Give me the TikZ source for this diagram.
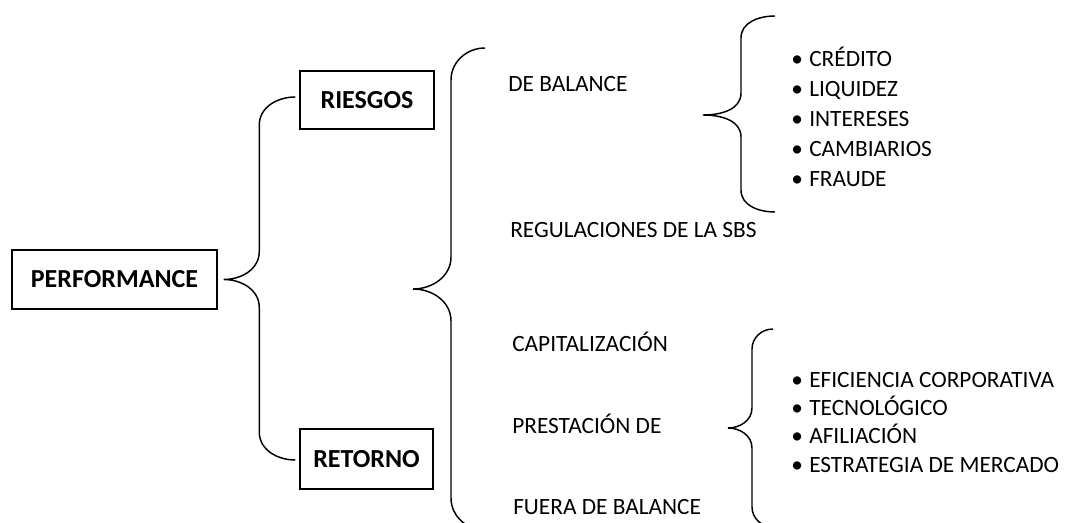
\documentclass[tikz,border=0pt]{standalone}
\usepackage{fontspec}
\setmainfont{Carlito}
\usetikzlibrary{calc}
\tikzset{
	box/.style={
		draw=black,
		line width=1.1pt,
		inner sep=0pt,
		font=\fontsize{19.5}{22}\selectfont\bfseries
	},
	item/.style={
		anchor=base west,
		inner sep=0pt,
		font=\fontsize{17.5}{20}\selectfont
	},
	brace/.style={
		draw=black,
		line width=1.1pt
	}
}
% top end, tip, bottom end, curl width, curl height
\newcommand{\wbrace}[5]{%
	\draw[brace] let \p1=(#1), \p2=(#2), \p3=(#3) in
		(#1) to[out=180,in=90] ({\x1-#4},{\y1-#5}) -- ({\x1-#4},{\y2+#5})
		to[out=-90,in=0] (#2) to[out=0,in=90] ({\x1-#4},{\y2-#5})
		-- ({\x1-#4},{\y3+#5}) to[out=-90,in=180] (#3);
}
\newcommand{\itm}[1]{\makebox[13.5pt][l]{\textbullet}#1}

\begin{document}
\begin{tikzpicture}[x=0.75pt,y=0.75pt]
  \path[use as bounding box,clip] (0,0) rectangle (1070,-523);

  \node [box, minimum width=153.75pt, minimum height=44.25pt] (perf) at (114.5,-279.5) {PERFORMANCE};
  \node [box, minimum width=100.5pt, minimum height=43.5pt] (ries) at (367,-100) {RIESGOS};
  \node [box, minimum width=99.75pt, minimum height=45pt] (ret) at (366.5,-459) {RETORNO};

  \node [item] (debal) at (508,-92) {DE BALANCE};
  \node [item] (regsbs) at (510,-238) {REGULACIONES DE LA SBS};
  \node [item] (capit) at (512,-352) {CAPITALIZACIÓN};
  \node [item] (prest) at (512,-434) {PRESTACIÓN DE};
  \node [item] (fuera) at (513,-514) {FUERA DE BALANCE};

  \foreach \t [count=\i] in {CRÉDITO,LIQUIDEZ,INTERESES,CAMBIARIOS,FRAUDE}
    \node [item] (r\i) at (791,-37-30*\i) {\itm{\t}};
  \foreach \t [count=\i] in {EFICIENCIA CORPORATIVA,TECNOLÓGICO,AFILIACIÓN,ESTRATEGIA DE MERCADO}
    \node [item] (e\i) at (791,-360-28*\i) {\itm{\t}};

  \coordinate (lbtop) at ($(ries.west)+(-4,3)$);
  \coordinate (lbtip) at ($(perf.east)+(6,0)$);
  \coordinate (lbbot) at ($(ret.west)+(-4,-1)$);
  \wbrace{lbtop}{lbtip}{lbbot}{27pt}{21pt}

  \coordinate (mbtop) at (485,-48);
  \coordinate (mbtip) at (413,-289);
  \coordinate (mbbot) at (485,-530);
  \wbrace{mbtop}{mbtip}{mbbot}{25.5pt}{24pt}

  \coordinate (rbtop) at (775,-16);
  \coordinate (rbtip) at (703,-115);
  \coordinate (rbbot) at (775,-212);
  \wbrace{rbtop}{rbtip}{rbbot}{25.5pt}{16.5pt}

  \coordinate (ebtop) at (773,-329);
  \coordinate (ebtip) at (728,-428);
  \coordinate (ebbot) at (773,-527);
  \wbrace{ebtop}{ebtip}{ebbot}{15.75pt}{15pt}
\end{tikzpicture}
\end{document}
